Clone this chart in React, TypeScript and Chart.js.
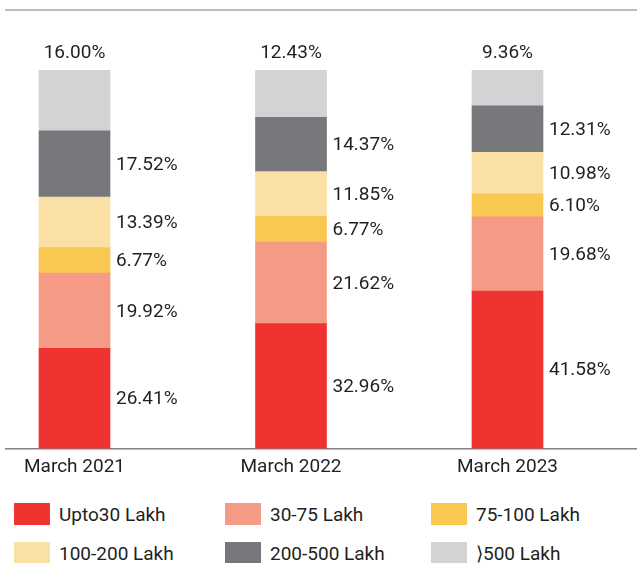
import React, { useEffect, useRef } from "react";
import { Chart, registerables } from "chart.js";

Chart.register(...registerables);

const categories = ["March 2021", "March 2022", "March 2023"];
const seriesNames = ["Upto30 Lakh", "30-75 Lakh", "75-100 Lakh", "100-200 Lakh", "200-500 Lakh", "⟩500 Lakh"];
const upto30 = [26.41, 32.96, 41.58];
const lakh30to75 = [19.92, 21.62, 19.68];
const lakh75to100 = [6.77, 6.77, 6.10];
const lakh100to200 = [13.39, 11.85, 10.98];
const lakh200to500 = [17.52, 14.37, 12.31];
const above500 = [16.0, 12.43, 9.36];
const seriesValues = [upto30, lakh30to75, lakh75to100, lakh100to200, lakh200to500, above500];
const colors = ["#EF3331", "#F59B85", "#F9C851", "#FBE0A6", "#77787B", "#D1D3D4"];

const TEXT = "#231F20";
const FONT = "Roboto";

const linesPlugin = {
  id: "frameLines",
  beforeDraw(chart: any) {
    const { ctx, chartArea, width } = chart;
    ctx.save();
    ctx.strokeStyle = "#A7A9AC";
    ctx.lineWidth = 1.5;
    ctx.beginPath();
    ctx.moveTo(5, chartArea.top);
    ctx.lineTo(width, chartArea.top);
    ctx.stroke();
    ctx.strokeStyle = "#808285";
    ctx.beginPath();
    ctx.moveTo(5, chartArea.bottom + 0.5);
    ctx.lineTo(width, chartArea.bottom + 0.5);
    ctx.stroke();
    ctx.restore();
  },
};

const labelsPlugin = {
  id: "valueLabels",
  afterDatasetsDraw(chart: any) {
    const { ctx } = chart;
    const n = chart.data.datasets.length;
    ctx.save();
    ctx.fillStyle = TEXT;
    ctx.font = `19px ${FONT}`;
    chart.data.datasets.forEach((ds: any, di: number) => {
      const meta = chart.getDatasetMeta(di);
      meta.data.forEach((bar: any, i: number) => {
        const v = ds.data[i];
        const text = v.toFixed(2) + "%";
        const { x, y, base, width } = bar.getProps(["x", "y", "base", "width"], true);
        if (di === n - 1) {
          ctx.textAlign = "center";
          ctx.textBaseline = "middle";
          ctx.fillText(text, x, y - 17);
        } else {
          ctx.textAlign = "left";
          ctx.textBaseline = "middle";
          ctx.fillText(text, x + width / 2 + 6, (y + base) / 2 + 1);
        }
      });
    });
    ctx.restore();
  },
};

export default function App() {
  const ref = useRef<HTMLCanvasElement>(null);
  useEffect(() => {
    if (!ref.current) return;
    const chart = new Chart(ref.current, {
      type: "bar",
      data: {
        labels: categories,
        datasets: seriesValues.map((vals, i) => ({
          label: seriesNames[i],
          data: vals,
          backgroundColor: colors[i],
          borderWidth: 0,
          barThickness: 71,
          clip: false as any,
        })),
      },
      options: {
        animation: false,
        responsive: false,
        maintainAspectRatio: false,
        layout: { padding: { top: 10, left: 74.5, right: 129.5, bottom: 3 } },
        plugins: { legend: { display: false }, tooltip: { enabled: false } },
        scales: {
          x: {
            stacked: true,
            offset: false,
            grid: { display: false, drawTicks: false },
            border: { display: false },
            ticks: { color: TEXT, font: { family: FONT, size: 19 }, padding: 8, maxRotation: 0 },
          },
          y: {
            stacked: true,
            display: false,
            min: 0,
            max: 116,
          },
        },
      },
      plugins: [linesPlugin, labelsPlugin],
    });
    return () => chart.destroy();
  }, []);

  const legendPos = [
    { bx: 14, tx: 59, by: 503 },
    { bx: 225, tx: 270, by: 503 },
    { bx: 431, tx: 476, by: 503 },
    { bx: 14, tx: 59, by: 542 },
    { bx: 225, tx: 270, by: 542 },
    { bx: 431, tx: 476, by: 542 },
  ];

  return (
    <div style={{ position: "absolute", left: 0, top: 0, width: 637, height: 563, background: "#fff", overflow: "hidden", fontFamily: FONT }}>
      <canvas ref={ref} width={637} height={490} style={{ display: "block", width: 637, height: 490 }} />
      {seriesNames.map((name, i) => (
        <React.Fragment key={name}>
          <div style={{ position: "absolute", left: legendPos[i].bx, top: legendPos[i].by, width: 36, height: 22, background: colors[i] }} />
          <div style={{ position: "absolute", left: legendPos[i].tx, top: legendPos[i].by, height: 22, lineHeight: "22px", fontSize: 19, color: TEXT, whiteSpace: "nowrap", marginTop: 1 }}>
            {name}
          </div>
        </React.Fragment>
      ))}
    </div>
  );
}
